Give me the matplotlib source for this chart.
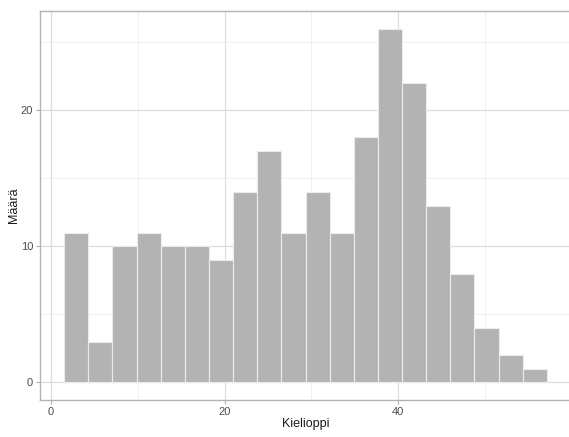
import numpy as np
import matplotlib.pyplot as plt

# histogrammin pylväät (Kielioppi-pisteet)
counts = [11, 3, 10, 11, 10, 10, 9, 14, 17, 11, 14, 11, 18, 26, 22, 13, 8, 4, 2, 1]
bin_edges = np.linspace(1.53, 57.1, len(counts) + 1)
x_ticks = [0, 20, 40]
y_ticks = [0, 10, 20]

plt.rcParams['font.family'] = ['Liberation Sans', 'DejaVu Sans']

W, H = 569, 437
fig = plt.figure(figsize=(W / 100, H / 100), dpi=100)
# paneeli: vasen reuna 40 px, ggplotin paneeli jatkuisi 571 px asti; piirretään yli reunan
left_px, right_px, draw_right = 40, 571, 600
ax = fig.add_axes([left_px / W, 1 - 400 / H, (draw_right - left_px) / W, 389 / H])

ax.bar(bin_edges[:-1], counts, width=np.diff(bin_edges), align='edge',
       color='#b3b3b3', edgecolor='#ececec', linewidth=0.8, zorder=3)

span = bin_edges[-1] - bin_edges[0]
x0 = bin_edges[0] - 0.05 * span
x1 = bin_edges[-1] + 0.05 * span
ax.set_xlim(x0, x0 + (x1 - x0) * (draw_right - left_px) / (right_px - left_px))
ax.set_ylim(-0.05 * max(counts), 1.05 * max(counts))

ax.set_xticks(x_ticks)
ax.set_yticks(y_ticks)
ax.set_xticks([10, 30, 50], minor=True)
ax.set_yticks([5, 15, 25], minor=True)
ax.grid(which='major', color='#dedede', linewidth=0.9, zorder=0)
ax.grid(which='minor', color='#ececec', linewidth=0.6, zorder=0)
ax.tick_params(which='major', length=3, width=0.8, color='#b3b3b3',
               labelsize=8, labelcolor='#4d4d4d', pad=2)
ax.tick_params(which='minor', length=0)
for s in ax.spines.values():
    s.set_color('#b3b3b3')
    s.set_linewidth(1.0)

ax.set_xlabel('Kielioppi', fontsize=9, color='#1a1a1a', labelpad=3)
ax.xaxis.set_label_coords((right_px - left_px) / 2 / (draw_right - left_px), -0.045)
ax.set_ylabel('Määrä', fontsize=9, color='#1a1a1a', labelpad=0.5)

fig.savefig('out.png', dpi=100)
